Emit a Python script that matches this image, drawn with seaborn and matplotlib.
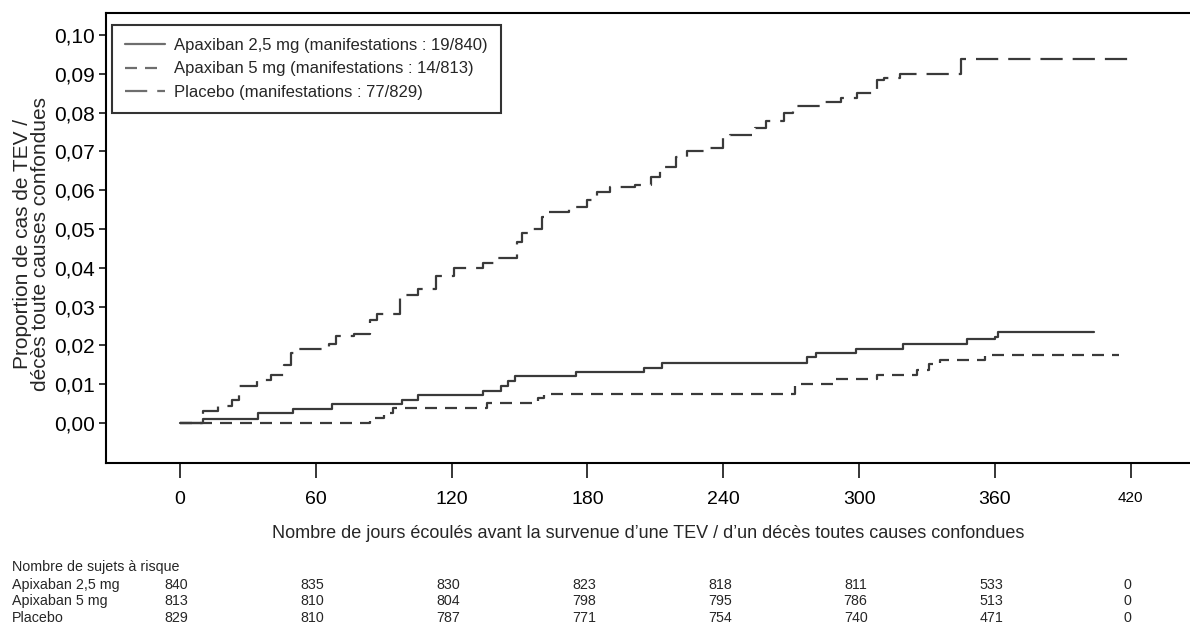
import matplotlib
matplotlib.use("Agg")
import matplotlib.pyplot as plt
import matplotlib.transforms as mtransforms
import pandas as pd
import seaborn as sns

# ---------------- data ----------------
apx25_days = [0, 10, 34.5, 50, 67, 98, 105, 134, 142, 145, 148, 175, 205, 213,
              277, 281, 298.5, 319.5, 347.7, 360, 361.5, 404]
apx25_prop = [0, 0.001, 0.0025, 0.0036, 0.0049, 0.0059, 0.0072, 0.0082, 0.0095,
              0.0109, 0.0122, 0.0132, 0.0143, 0.0155, 0.017, 0.018, 0.019,
              0.0204, 0.0216, 0.0222, 0.0234, 0.0234]

apx5_days = [0, 84, 90, 94, 135.6, 158, 161, 271.5, 288.5, 308, 325.6, 331,
             335.7, 355.6, 415]
apx5_prop = [0, 0.0013, 0.0026, 0.0039, 0.0051, 0.0064, 0.0075, 0.010, 0.0113,
             0.0125, 0.0138, 0.0151, 0.0162, 0.0175, 0.0175]

plc_days = [0, 10, 17, 23, 26, 34, 40, 46, 49, 51, 66, 69, 77, 84, 87, 97, 105,
            113, 121, 134, 140, 149, 151, 156, 160, 163, 172, 180, 184, 190,
            201, 208, 212, 219, 224, 233, 240, 243, 254, 259, 267, 271, 283,
            292, 299, 308, 311, 318, 345, 421]
plc_prop = [0, 0.003, 0.0045, 0.006, 0.0095, 0.011, 0.0125, 0.015, 0.018,
            0.019, 0.0205, 0.0225, 0.023, 0.0265, 0.028, 0.033, 0.0345, 0.038,
            0.040, 0.0412, 0.0425, 0.0466, 0.049, 0.050, 0.053, 0.0544, 0.0557,
            0.0575, 0.0595, 0.0608, 0.0613, 0.0634, 0.066, 0.0686, 0.070,
            0.0709, 0.0734, 0.0742, 0.076, 0.0778, 0.080, 0.0817, 0.0828,
            0.0838, 0.0852, 0.0884, 0.089, 0.0901, 0.0938, 0.0938]

series_labels = ["Apaxiban 2,5 mg (manifestations : 19/840)",
                 "Apaxiban 5 mg (manifestations : 14/813)",
                 "Placebo (manifestations : 77/829)"]

x_ticks = [0, 60, 120, 180, 240, 300, 360, 420]
x_ticklabels = ["0", "60", "120", "180", "240", "300", "360", "420"]
y_ticks = [0.00, 0.01, 0.02, 0.03, 0.04, 0.05, 0.06, 0.07, 0.08, 0.09, 0.10]
y_ticklabels = ["0,00", "0,01", "0,02", "0,03", "0,04", "0,05", "0,06",
                "0,07", "0,08", "0,09", "0,10"]

risk_title = "Nombre de sujets à risque"
risk_groups = ["Apixaban 2,5 mg", "Apixaban 5 mg", "Placebo"]
risk_apx25 = [840, 835, 830, 823, 818, 811, 533, 0]
risk_apx5 = [813, 810, 804, 798, 795, 786, 513, 0]
risk_plc = [829, 810, 787, 771, 754, 740, 471, 0]

xlabel = ("Nombre de jours écoulés avant la survenue d’une TEV / "
          "d’un décès toutes causes confondues")
ylabel = "Proportion de cas de TEV /\ndécès toute causes confondues"

# ---------------- style ----------------
sns.set_style("white")
plt.rcParams["font.family"] = ["Liberation Sans", "DejaVu Sans"]

df = pd.concat([
    pd.DataFrame({"day": apx25_days, "prop": apx25_prop, "group": series_labels[0]}),
    pd.DataFrame({"day": apx5_days, "prop": apx5_prop, "group": series_labels[1]}),
    pd.DataFrame({"day": plc_days, "prop": plc_prop, "group": series_labels[2]}),
], ignore_index=True)

line_color = "#3a3a3a"
palette = {s: line_color for s in series_labels}
dashes = {series_labels[0]: "", series_labels[1]: (5.4, 3.6),
          series_labels[2]: (10, 4.5)}

fig = plt.figure(figsize=(11.9, 6.39), dpi=100)
ax = fig.add_axes([106 / 1190, 176 / 639, 1084 / 1190, 450 / 639])

sns.lineplot(data=df, x="day", y="prop", hue="group", style="group",
             palette=palette, dashes=dashes, drawstyle="steps-post",
             estimator=None, sort=False, linewidth=1.6, ax=ax)

ax.set_xlim(-32.7, 446.2)
ax.set_ylim(-0.0103, 0.1057)

for side in ["left", "top", "bottom"]:
    ax.spines[side].set_visible(True)
    ax.spines[side].set_linewidth(1.5)
    ax.spines[side].set_color("black")
ax.spines["right"].set_visible(False)

ax.set_xticks(x_ticks)
ax.set_xticklabels(x_ticklabels)
ax.set_yticks(y_ticks)
ax.set_yticklabels(y_ticklabels)
ax.tick_params(axis="x", direction="out", length=11, width=1.1, pad=9,
               labelsize=14, colors="black", bottom=True)
ax.tick_params(axis="y", direction="out", length=5, width=1.1, pad=3,
               labelsize=15, colors="black", left=True)
ax.get_xticklabels()[-1].set_fontsize(11)

ax.set_xlabel(xlabel, fontsize=13)
ax.xaxis.set_label_coords(0.5, -0.138)
ax.set_ylabel(ylabel, fontsize=15, linespacing=0.92)
ax.yaxis.set_label_coords(-0.052, 0.487)

handles, labels = ax.get_legend_handles_labels()
leg = ax.legend(handles, labels, loc="upper left",
                bbox_to_anchor=(0.0055, 0.974), fontsize=12,
                frameon=True, fancybox=False, borderpad=0.8,
                labelspacing=0.5, handlelength=2.4, handletextpad=0.5,
                borderaxespad=0)
leg.get_frame().set_edgecolor("black")
leg.get_frame().set_linewidth(1.5)
for h in leg.get_lines():
    h.set_color("#6e6e6e")

# ---------------- risk table ----------------
trans = mtransforms.blended_transform_factory(ax.transData, fig.transFigure)
fig.text(12 / 1190, 1 - 567 / 639, risk_title, fontsize=10.3, va="center")
rows_y = [1 - 585 / 639, 1 - 601 / 639, 1 - 618 / 639]
for name, counts, yy in zip(risk_groups, [risk_apx25, risk_apx5, risk_plc], rows_y):
    fig.text(12 / 1190, yy, name, fontsize=10.3, va="center")
    for d, c in zip(x_ticks, counts):
        ax.text(d - 1.5, yy, str(c), transform=trans, fontsize=10.3,
                ha="center", va="center", clip_on=False)

fig.savefig("out.png", dpi=100)
